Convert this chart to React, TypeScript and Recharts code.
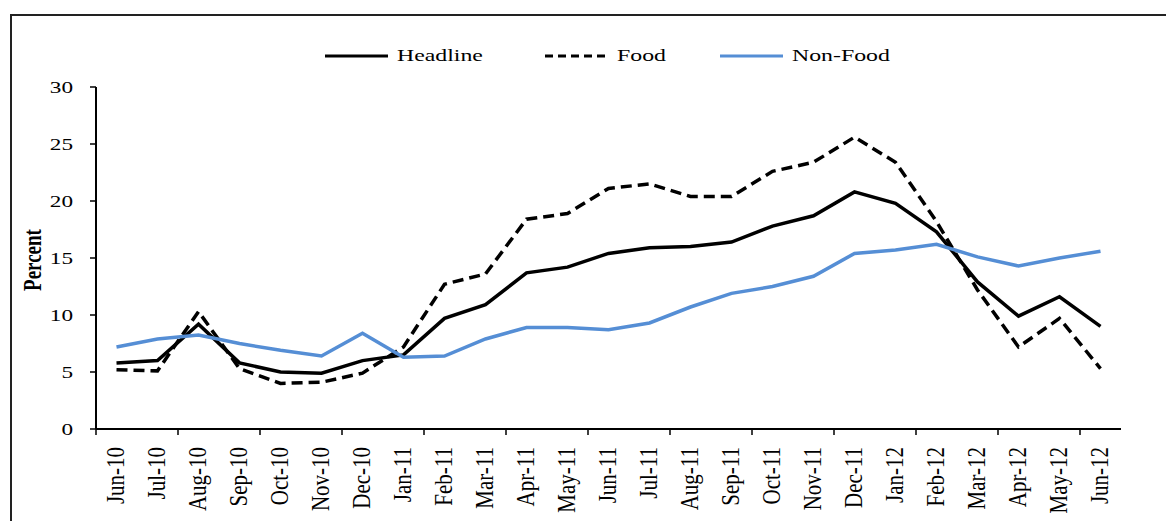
import React from 'react';
import { LineChart, Line, XAxis, YAxis, Legend } from 'recharts';

// Inflation by component, year-on-year
const months = [
  'Jun-10', 'Jul-10', 'Aug-10', 'Sep-10', 'Oct-10', 'Nov-10', 'Dec-10',
  'Jan-11', 'Feb-11', 'Mar-11', 'Apr-11', 'May-11', 'Jun-11', 'Jul-11',
  'Aug-11', 'Sep-11', 'Oct-11', 'Nov-11', 'Dec-11', 'Jan-12', 'Feb-12',
  'Mar-12', 'Apr-12', 'May-12', 'Jun-12',
];
const headline = [
  5.8, 6.0, 9.2, 5.8, 5.0, 4.9, 6.0, 6.5, 9.7, 10.9, 13.7, 14.2, 15.4,
  15.9, 16.0, 16.4, 17.8, 18.7, 20.8, 19.8, 17.3, 12.9, 9.9, 11.6, 9.0,
];
const food = [
  5.2, 5.1, 10.3, 5.3, 4.0, 4.1, 4.9, 7.2, 12.7, 13.6, 18.4, 18.9, 21.1,
  21.5, 20.4, 20.4, 22.6, 23.4, 25.6, 23.4, 18.2, 12.2, 7.2, 9.7, 5.3,
];
const nonFood = [
  7.2, 7.9, 8.25, 7.5, 6.9, 6.4, 8.4, 6.3, 6.4, 7.9, 8.9, 8.9, 8.7,
  9.3, 10.7, 11.9, 12.5, 13.4, 15.4, 15.7, 16.2, 15.1, 14.3, 15.0, 15.6,
];
const yTicks = [0, 5, 10, 15, 20, 25, 30];

const data = months.map((month, i) => ({
  month,
  headline: headline[i],
  food: food[i],
  nonFood: nonFood[i],
}));

const FONT = '"Liberation Serif", "Times New Roman", serif';
const BLUE = '#558ED5';
const W = 1174;
const H = 529;
const MARGIN = { top: 87, right: 53, bottom: 0, left: 36 };
const Y_AXIS_W = 60;
const X_AXIS_H = 100;
const AXIS_Y = H - MARGIN.bottom - X_AXIS_H;
const BAND = (W - MARGIN.left - Y_AXIS_W - MARGIN.right) / months.length;

const YTick = (props: any) => {
  const { x, y, payload } = props;
  return (
    <g transform={`translate(${x},${y})`}>
      <text transform="scale(1.45,1)" textAnchor="end" dy="0.36em" fontSize={16} fontFamily={FONT} fill="#000">
        {payload.value}
      </text>
    </g>
  );
};

// month label, plus a tick mark on the band edge every second month
const MonthTick = (props: any) => {
  const { x, payload, index } = props;
  const edge = x - BAND / 2;
  return (
    <g>
      {index % 2 === 0 && (
        <line x1={edge} x2={edge} y1={AXIS_Y} y2={AXIS_Y + 6} stroke="#000" strokeWidth={1.5} />
      )}
      <g transform={`translate(${x + 7},${AXIS_Y + 18}) scale(1.15,1) rotate(-90)`}>
        <text textAnchor="end" fontSize={21} fontFamily={FONT} fill="#000">
          {payload.value}
        </text>
      </g>
    </g>
  );
};

const legendItems = [
  { label: 'Headline', color: '#000', dash: undefined, left: 325 },
  { label: 'Food', color: '#000', dash: '8 5', left: 545 },
  { label: 'Non-Food', color: BLUE, dash: undefined, left: 720 },
];

const renderLegend = () => (
  <div style={{ position: 'relative', height: 28, width: W }}>
    {legendItems.map((item) => (
      <div key={item.label} style={{ position: 'absolute', left: item.left, top: 0, height: 28, display: 'flex', alignItems: 'center' }}>
        <svg width={63} height={8} style={{ display: 'block' }}>
          <line x1={0} x2={63} y1={4} y2={4} stroke={item.color} strokeWidth={3} strokeDasharray={item.dash} />
        </svg>
        <span
          style={{
            marginLeft: 9,
            fontFamily: FONT,
            fontSize: 17,
            color: '#000',
            display: 'inline-block',
            transform: 'scale(1.4,1)',
            transformOrigin: 'left center',
            lineHeight: '28px',
          }}
        >
          {item.label}
        </span>
      </div>
    ))}
  </div>
);

export default function App() {
  return (
    <div style={{ position: 'relative', width: W, height: H, margin: -8, background: '#fff', overflow: 'hidden' }}>
      <div
        style={{
          position: 'absolute',
          left: 10,
          top: 14,
          width: W,
          height: H,
          borderTop: '2px solid #222',
          borderLeft: '2px solid #222',
        }}
      />
      <LineChart width={W} height={H} data={data} margin={MARGIN} style={{ position: 'absolute', left: 0, top: 0 }}>
        <XAxis
          dataKey="month"
          interval={0}
          height={X_AXIS_H}
          padding={{ left: BAND / 2, right: BAND / 2 }}
          tickLine={false}
          axisLine={{ stroke: '#000', strokeWidth: 2 }}
          tick={<MonthTick />}
        />
        <YAxis
          domain={[0, 30]}
          ticks={yTicks}
          width={Y_AXIS_W}
          tickSize={6}
          tickMargin={17}
          axisLine={{ stroke: '#000', strokeWidth: 2 }}
          tickLine={{ stroke: '#000', strokeWidth: 1.5 }}
          tick={<YTick />}
          label={(
            <g transform="translate(32,260) scale(1.3,1) rotate(-90)">
              <text textAnchor="middle" dy="0.35em" fontSize={19} fontWeight="bold" fontFamily={FONT} fill="#000">
                Percent
              </text>
            </g>
          )}
        />
        <Legend
          verticalAlign="middle"
          align="center"
          layout="horizontal"
          wrapperStyle={{ top: 42, left: 0, width: W, height: 28 }}
          content={renderLegend}
        />
        <Line type="linear" dataKey="food" stroke="#000" strokeWidth={3.5} strokeDasharray="11 6" dot={false} isAnimationActive={false} />
        <Line type="linear" dataKey="headline" stroke="#000" strokeWidth={3.5} dot={false} isAnimationActive={false} />
        <Line type="linear" dataKey="nonFood" stroke={BLUE} strokeWidth={3.5} dot={false} isAnimationActive={false} />
      </LineChart>
    </div>
  );
}
